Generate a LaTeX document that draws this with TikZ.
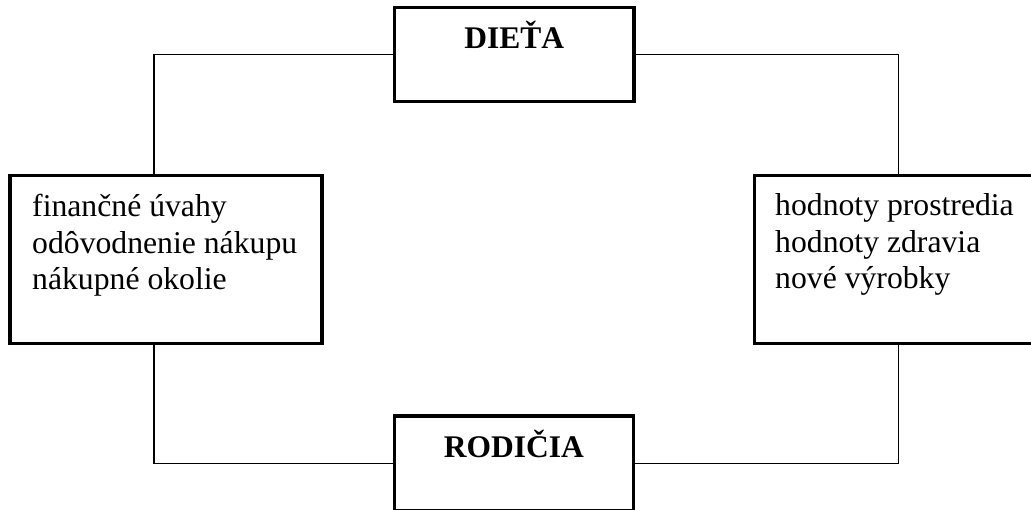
\documentclass[tikz,border=0pt]{standalone}
\usepackage{fontspec}
\setmainfont{Liberation Serif}
\begin{document}
\begin{tikzpicture}[x=1pt,y=-1pt,
  box/.style={draw=black,line width=3.2pt,rectangle,inner sep=0pt,outer sep=0pt},
  conn/.style={draw=black,line width=1.3pt},
  title/.style={font=\fontsize{31.5}{36.5}\selectfont\bfseries,inner sep=0pt,anchor=base},
  body/.style={font=\fontsize{31.7}{36.5}\selectfont,inner sep=0pt,anchor=base west,align=left}]
\useasboundingbox (0,0) rectangle (1031,510);
\clip (0,0) rectangle (1031,510);
% boxes
\node[box,minimum width=239.3pt,minimum height=94.4pt] (dieta) at (514.3,54.5) {};
\node[box,minimum width=239.3pt,minimum height=94.4pt] (rod) at (513.8,463.2) {};
\node[box,minimum width=312pt,minimum height=167.8pt] (left) at (166,259.6) {};
\node[box,minimum width=288pt,minimum height=167.8pt] (right) at (898.7,259.6) {};
% texts
\node[title] (dietaT) at (514.3,49) {DIEŤA};
\node[title] (rodT) at (513.8,457) {RODIČIA};
\node[body] (leftT) at (32,290) {finančné úvahy\\odôvodnenie nákupu\\nákupné okolie};
\node[body] (rightT) at (775,289) {hodnoty prostredia\\hodnoty zdravia\\nové výrobky};
% connectors
\draw[conn] (dieta.west) -| ([xshift=-12pt]left.north);
\draw[conn] (dieta.east) -| (right.north);
\draw[conn] ([xshift=-12pt]left.south) |- (rod.west);
\draw[conn] (right.south) |- (rod.east);
\end{tikzpicture}
\end{document}
